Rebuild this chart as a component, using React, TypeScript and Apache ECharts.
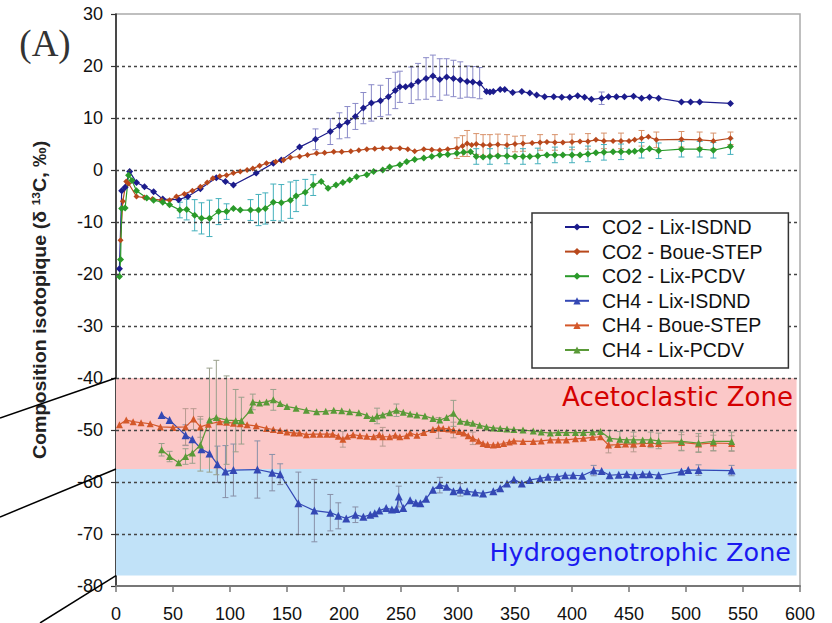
import React, { useEffect, useRef } from "react";
import * as echarts from "echarts";

// ---------- data ----------
const xTicks = [0, 50, 100, 150, 200, 250, 300, 350, 400, 450, 500, 550, 600];
const yTicks = [30, 20, 10, 0, -10, -20, -30, -40, -50, -60, -70, -80];
const gridValues = [20, 10, 0, -10, -20, -30, -40, -50, -60, -70];

const acetoZone = [-40, -57.5];
const hydroZone = [-57.5, -78];
const zoneXEnd = 597;

const co2Isdnd: number[][] = [[3,-19],[5,-4],[8,-3.3],[12,-0.3],[18,-2.4],[25,-3.2],[33,-4.2],[41,-5.6],[55,-5.7],[63,-5.1],[74,-3.6],[88,-1.5],[96,-2.2],[103,-2.9],[123,-0.6],[138,1.3],[145,1.9],[161,4.4],[175,5.9],[188,7.4],[196,8.5],[203,9.2],[210,10.3],[217,11.9],[224,12.9],[232,13.3],[239,14.1],[245,15.3],[249,16],[254,16],[259,16.3],[265,17],[272,17.6],[278,18.1],[284,17.4],[290,17.9],[296,17.6],[302,17.3],[308,17],[313,16.9],[319,16.7],[325,15.1],[328,15],[331,15.1],[337,15.5],[341,15.5],[348,14.9],[356,15.1],[363,14.8],[369,14.4],[376,14.1],[384,14.1],[391,14],[398,14],[405,14.3],[411,14],[417,13.6],[426,13.8],[432,14.1],[439,14.1],[446,14.1],[454,14.2],[461,13.8],[468,14],[476,13.8],[496,13.1],[504,13.1],[512,13.1],[539,12.8]];
const co2IsdndErr: number[][] = [[175,2],[188,2.5],[196,2.5],[203,3],[210,2.5],[217,3],[224,3.5],[232,3],[239,3.5],[245,3.5],[249,3],[259,3.5],[265,3.5],[272,4],[278,4],[284,4],[290,3.5],[296,3.5],[302,3.5],[308,3],[313,3],[319,3],[426,1.2]];

const co2Boue: number[][] = [[4,-13.5],[6,-6],[9,-2.2],[11,-2.6],[18,-5.1],[25,-5.3],[32,-5.6],[40,-5.8],[47,-5.8],[53,-5.1],[60,-4.6],[67,-4],[74,-3.2],[80,-2.4],[85,-1.6],[91,-1.2],[97,-1],[103,-0.6],[109,-0.3],[115,0],[120,0.3],[126,0.8],[132,1.3],[140,1.6],[147,1.9],[153,2.4],[161,2.6],[168,2.9],[176,3.2],[183,3.3],[191,3.5],[198,3.5],[206,3.6],[213,3.8],[220,4],[227,4.1],[234,4.2],[241,4.2],[249,4.2],[256,4],[262,3.6],[270,4],[277,3.9],[284,3.8],[291,4],[299,4.2],[304,4.6],[308,5.1],[312,4.8],[316,5],[322,4.8],[328,4.8],[335,4.9],[343,4.8],[350,5],[357,5.1],[365,5.2],[372,5.3],[378,5.4],[385,5.3],[392,5.3],[400,5.4],[407,5.5],[414,5.5],[421,5.8],[428,5.6],[436,5.6],[443,5.6],[450,5.6],[455,5.8],[461,6.1],[467,6.4],[474,5.8],[496,5.9],[512,5.8],[524,5.6],[539,6.1]];
const co2BoueErr: number[][] = [[299,2],[304,2],[308,2.5],[316,2],[322,2],[328,2],[335,2],[343,2],[350,1.5],[357,1.5],[372,1.5],[385,1.5],[400,1.5],[414,1.5],[428,1.5],[443,1.5],[461,1.5],[474,1.5],[496,1.5],[512,1.5],[524,1.5],[539,1.2]];

const co2Pcdv: number[][] = [[3,-20.5],[4,-17.2],[5,-7.4],[8,-7.3],[11,-1],[14,-2],[18,-4],[27,-5.4],[33,-5.8],[41,-6.2],[47,-6.7],[56,-7.7],[62,-7.6],[69,-8.7],[75,-9.3],[82,-9.3],[90,-8],[97,-8],[103,-7.4],[109,-7.7],[118,-7.7],[125,-7.7],[131,-7.4],[138,-6.2],[145,-6.3],[153,-5.8],[158,-5],[166,-4.3],[173,-2.9],[180,-2.2],[186,-3.5],[193,-2.9],[199,-2.4],[205,-1.9],[211,-1.3],[220,-0.9],[226,-0.3],[234,0],[240,0.6],[249,1],[255,1.6],[262,2],[270,2.3],[277,2.6],[284,2.9],[291,3],[299,3.2],[305,3.4],[311,3.5],[316,2.6],[322,2.5],[328,2.6],[335,2.7],[343,2.7],[350,2.6],[357,2.6],[363,2.6],[370,2.7],[378,2.9],[385,2.9],[392,2.9],[400,2.9],[407,2.9],[414,3.1],[421,3.3],[428,3.4],[436,3.5],[443,3.5],[450,3.5],[455,3.6],[461,3.8],[468,4.1],[476,3.7],[496,4],[512,4],[524,3.8],[539,4.5]];
const co2PcdvErr: number[][] = [[56,1.5],[62,2],[69,3],[75,3],[82,3.5],[90,2.5],[97,1.5],[118,2],[125,3],[131,3],[138,3.5],[145,3.5],[153,3.5],[158,3],[166,2.5],[173,2],[316,1.5],[328,1.5],[343,1.5],[357,1.5],[370,1.5],[385,1.5],[400,1.5],[414,1.5],[428,1.5],[443,1.5],[461,1.5],[476,1.5],[496,1.5],[512,1.5],[524,1.5],[539,1.5]];

const ch4Isdnd: number[][] = [[40,-47.1],[47,-48.1],[61,-51],[67,-51.8],[75,-53.7],[82,-54.5],[89,-56.6],[96,-58],[103,-57.7],[124,-57.6],[137,-58.2],[144,-58.5],[160,-64.1],[174,-65.5],[188,-65.9],[195,-66.5],[202,-67],[210,-66.3],[217,-66.7],[223,-66.3],[227,-66],[231,-65.5],[237,-65],[242,-65.3],[246,-65.2],[248,-62.8],[252,-65],[258,-63.5],[263,-64],[267,-64.1],[272,-63.2],[278,-61.5],[284,-60.6],[290,-60.9],[296,-61.8],[302,-61.5],[308,-61.8],[315,-62],[322,-62.2],[331,-61.8],[337,-61.2],[343,-60.3],[349,-59.5],[356,-60.3],[363,-59.6],[372,-59.3],[379,-59],[387,-59],[394,-58.7],[401,-58.7],[409,-58.8],[419,-57.8],[426,-57.9],[433,-58.7],[441,-58.6],[448,-58.5],[455,-58.7],[462,-58.5],[468,-58.5],[476,-58.7],[496,-58],[502,-57.7],[511,-57.7],[540,-57.8]];
const ch4IsdndErr: number[][] = [[61,2],[89,3.5],[96,5],[103,5],[124,5.5],[137,3.5],[144,2],[160,6],[174,6],[188,3.5],[195,2.5],[210,1.5],[248,2],[284,1.5],[302,1.2],[419,1],[511,1],[540,1]];

const ch4Boue: number[][] = [[3,-49],[9,-48.1],[15,-48.4],[22,-48.6],[30,-48.8],[39,-49.4],[50,-49.5],[61,-49.4],[68,-47.9],[74,-49.4],[81,-48.9],[91,-48.4],[97,-48.5],[103,-48.7],[109,-48.8],[115,-49],[123,-49.2],[132,-49.7],[138,-49.9],[144,-50.1],[150,-50.4],[156,-50.6],[161,-50.6],[167,-50.9],[173,-50.8],[179,-50.8],[185,-50.8],[190,-50.8],[195,-51.2],[199,-51.8],[203,-51.2],[208,-50.9],[214,-51.1],[220,-51.2],[226,-51.3],[231,-50.9],[234,-51.3],[240,-51.3],[245,-51],[249,-51.3],[255,-51.1],[258,-50.6],[264,-51],[270,-50.5],[278,-49.9],[283,-49.6],[287,-49.7],[292,-49.8],[296,-50],[301,-50.3],[305,-50.6],[309,-51.1],[313,-51.6],[318,-52.1],[322,-52.6],[326,-52.8],[331,-52.9],[335,-52.8],[340,-52.6],[345,-52.3],[349,-52.1],[357,-52.2],[366,-52.2],[373,-52.1],[381,-51.9],[388,-51.9],[395,-51.9],[403,-51.7],[410,-51.6],[418,-51.4],[425,-51.3],[432,-52.9],[440,-52.8],[447,-52.7],[454,-52.7],[462,-52.6],[469,-52.6],[476,-52.6],[496,-52.4],[511,-52.7],[524,-52.5],[540,-52.6]];
const ch4BoueErr: number[][] = [[61,3.5],[68,2],[74,2],[199,1.5],[234,1.8],[283,2],[296,1.5],[313,1.2],[432,1.5],[454,1.5],[496,1.5],[511,1.5],[524,1.5],[540,1.5]];

const ch4Pcdv: number[][] = [[40,-53.8],[47,-55.1],[55,-56.3],[61,-55.1],[67,-54.4],[74,-52.9],[82,-48.1],[88,-47.6],[97,-48.1],[105,-48.2],[110,-48.2],[118,-46.2],[120,-44.6],[126,-44.8],[132,-44.6],[138,-44.2],[144,-44.9],[150,-45.5],[158,-45.8],[167,-46.2],[176,-46.5],[184,-46.4],[191,-46.2],[198,-46.3],[205,-46.5],[213,-46.7],[220,-47.2],[225,-47.8],[229,-47.3],[234,-47.1],[240,-46.7],[246,-46.2],[252,-46.6],[258,-46.9],[264,-47.1],[271,-47.3],[278,-47.8],[284,-48.1],[290,-47.6],[296,-46.8],[302,-48.3],[308,-48.5],[313,-48.7],[319,-49.1],[325,-49.4],[331,-49.6],[337,-49.7],[343,-49.8],[349,-49.9],[357,-50],[366,-50.2],[373,-50.4],[381,-50.6],[388,-50.5],[395,-50.5],[403,-50.5],[410,-50.5],[418,-50.4],[425,-50.3],[433,-51.6],[442,-51.8],[448,-51.9],[454,-51.9],[462,-51.9],[469,-51.9],[476,-52.1],[496,-52.2],[511,-52.5],[524,-52.2],[540,-52.2]];
const ch4PcdvErr: number[][] = [[40,1.2],[47,1],[61,1.5],[67,2],[74,5],[82,10],[88,11],[97,8.5],[105,6],[110,4.5],[120,1.5],[138,2],[229,1.5],[246,1.2],[296,2.5],[433,1.5],[442,1.5],[454,1.5],[469,1.5],[476,1.5],[496,1.8],[511,1.8],[524,1.8],[540,1.8]];

const seriesDefs = [
  { name: "CO2 - Lix-ISDND", data: co2Isdnd, err: co2IsdndErr, color: "#1c1c8c", errColor: "#8a8ac8", symbol: "diamond", size: 7 },
  { name: "CO2 - Boue-STEP", data: co2Boue, err: co2BoueErr, color: "#b8481c", errColor: "#d8926a", symbol: "diamond", size: 6 },
  { name: "CO2 - Lix-PCDV", data: co2Pcdv, err: co2PcdvErr, color: "#2a9a2a", errColor: "#44b0bc", symbol: "diamond", size: 7 },
  { name: "CH4 - Lix-ISDND", data: ch4Isdnd, err: ch4IsdndErr, color: "#3448b4", errColor: "#8890a8", symbol: "triangle", size: 8 },
  { name: "CH4 - Boue-STEP", data: ch4Boue, err: ch4BoueErr, color: "#d4582a", errColor: "#b89a90", symbol: "triangle", size: 7 },
  { name: "CH4 - Lix-PCDV", data: ch4Pcdv, err: ch4PcdvErr, color: "#5a9a38", errColor: "#9aa08c", symbol: "triangle", size: 7 },
];

const FONT = "'Liberation Sans', Arial, sans-serif";

export default function App() {
  const ref = useRef<HTMLDivElement>(null);
  useEffect(() => {
    const chart = echarts.init(ref.current!, null, { renderer: "svg" });

    const errSeries = seriesDefs.map((d) => {
      const rows = d.err.map(([x, e]) => {
        const pt = d.data.find((p) => p[0] === x);
        const y = pt ? pt[1] : 0;
        return [x, y - e, y + e];
      });
      return {
        type: "custom",
        name: d.name + " err",
        z: 2,
        silent: true,
        encode: { x: 0, y: [1, 2] },
        data: rows,
        renderItem: (params: any, api: any) => {
          const x = api.value(0);
          const p1 = api.coord([x, api.value(1)]);
          const p2 = api.coord([x, api.value(2)]);
          const w = 3;
          const st = { stroke: d.errColor, lineWidth: 1 };
          return {
            type: "group",
            children: [
              { type: "line", shape: { x1: p1[0], y1: p1[1], x2: p2[0], y2: p2[1] }, style: st },
              { type: "line", shape: { x1: p1[0] - w, y1: p1[1], x2: p1[0] + w, y2: p1[1] }, style: st },
              { type: "line", shape: { x1: p2[0] - w, y1: p2[1], x2: p2[0] + w, y2: p2[1] }, style: st },
            ],
          };
        },
      };
    });

    const lineSeries = seriesDefs.map((d) => ({
      type: "line",
      name: d.name,
      data: d.data,
      z: 3,
      symbol: d.symbol,
      symbolSize: d.size,
      showSymbol: true,
      color: d.color,
      lineStyle: { color: d.color, width: 1.2 },
      itemStyle: { color: d.color },
    }));

    const zoneSeries = {
      type: "line",
      name: "zones",
      data: [],
      z: 1,
      silent: true,
      markArea: {
        silent: true,
        data: [
          [
            { xAxis: 0, yAxis: acetoZone[0], itemStyle: { color: "#fbc8c8" } },
            { xAxis: zoneXEnd, yAxis: acetoZone[1] },
          ],
          [
            { xAxis: 0, yAxis: hydroZone[0], itemStyle: { color: "#c1e2f8" } },
            { xAxis: zoneXEnd, yAxis: hydroZone[1] },
          ],
        ],
      },
      markLine: {
        silent: true,
        symbol: ["none", "none"],
        label: { show: false },
        lineStyle: { color: "#444", type: [3, 3], width: 1.3 },
        data: gridValues.map((v) => ({ yAxis: v })),
      },
    };

    chart.setOption({
      animation: false,
      backgroundColor: "#fff",
      grid: { left: 116, right: 32, top: 14, bottom: 37, show: true, borderColor: "#aaa", borderWidth: 1.5 },
      xAxis: {
        type: "value",
        min: xTicks[0],
        max: xTicks[xTicks.length - 1],
        interval: 50,
        axisLine: { onZero: false, lineStyle: { color: "#777", width: 2 } },
        axisTick: { show: true, length: 6, lineStyle: { color: "#777", width: 1.5 } },
        axisLabel: { color: "#111", fontSize: 18, fontFamily: FONT, margin: 19 },
        splitLine: { show: false },
      },
      yAxis: {
        type: "value",
        min: yTicks[yTicks.length - 1],
        max: yTicks[0],
        interval: 10,
        axisLine: { show: true, onZero: false, lineStyle: { color: "#222", width: 1.5 } },
        axisTick: { show: true, length: 5, lineStyle: { color: "#333", width: 1.2 } },
        axisLabel: { color: "#111", fontSize: 18, fontFamily: FONT, margin: 13 },
        splitLine: { show: false },
      },
      legend: {
        data: seriesDefs.map((d) => d.name),
        orient: "vertical",
        left: 532,
        top: 213,
        z: 20,
        itemWidth: 24,
        itemHeight: 9,
        itemGap: 4.6,
        backgroundColor: "#fff",
        borderColor: "#333",
        borderWidth: 1.5,
        borderRadius: 0,
        padding: [4, 26, 8, 32],
        textStyle: { fontSize: 19.5, lineHeight: 20, color: "#111", fontFamily: FONT, padding: [0, 0, 0, 8] },
      },
      series: [zoneSeries, ...errSeries, ...lineSeries],
    });

    const p40 = chart.convertToPixel({ gridIndex: 0 }, [0, acetoZone[0]]) as number[];
    const p57 = chart.convertToPixel({ gridIndex: 0 }, [0, acetoZone[1]]) as number[];
    const p78 = chart.convertToPixel({ gridIndex: 0 }, [0, hydroZone[1]]) as number[];

    chart.setOption({
      graphic: [
        { type: "line", shape: { x1: 0, y1: 418, x2: p40[0], y2: p40[1] }, style: { stroke: "#000", lineWidth: 1.5 }, z: 10 },
        { type: "line", shape: { x1: 0, y1: 517, x2: p57[0], y2: p57[1] }, style: { stroke: "#000", lineWidth: 1.5 }, z: 10 },
        { type: "line", shape: { x1: 40, y1: 623, x2: p78[0], y2: p78[1] }, style: { stroke: "#000", lineWidth: 1.5 }, z: 10 },
        {
          type: "text",
          x: 45,
          y: 43,
          style: { text: "(A)", fontSize: 37, fontFamily: "'Liberation Serif', 'Times New Roman', serif", fill: "#333", align: "center", verticalAlign: "middle" },
        },
        {
          type: "text",
          x: 40,
          y: 300,
          rotation: Math.PI / 2,
          scaleX: 1.09,
          scaleY: 1,
          style: {
            text: "Composition isotopique (δ {sup|13}C, ‰)",
            fontSize: 18,
            fontWeight: "bold",
            fontFamily: FONT,
            fill: "#222",
            align: "center",
            verticalAlign: "middle",
            rich: { sup: { fontSize: 11, fontWeight: "bold", fontFamily: FONT, fill: "#222", padding: [0, 0, 8, 0] } },
          },
        },
        {
          type: "text",
          x: 793,
          y: 397,
          z: 10,
          style: { text: "Acetoclastic Zone", fontSize: 26, fontFamily: "'DejaVu Sans', sans-serif", fill: "#d40000", align: "right", verticalAlign: "middle" },
        },
        {
          type: "text",
          x: 791,
          y: 552,
          z: 10,
          style: { text: "Hydrogenotrophic Zone", fontSize: 25.5, fontFamily: "'DejaVu Sans', sans-serif", fill: "#1a1af0", align: "right", verticalAlign: "middle" },
        },
      ],
    });

    return () => chart.dispose();
  }, []);
  return <div ref={ref} style={{ width: 832, height: 623, position: "absolute", left: 0, top: 0 }} />;
}
